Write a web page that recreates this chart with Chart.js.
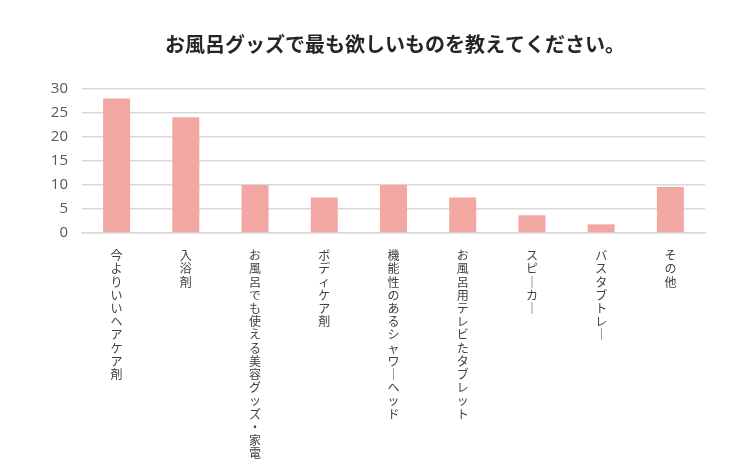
<!DOCTYPE html>
<html>
<head>
<meta charset="utf-8">
<script src="https://cdn.jsdelivr.net/npm/chart.js@4.4.0/dist/chart.umd.min.js"></script>
<style>
  html, body { margin: 0; padding: 0; background: #fff; }
  #wrap { width: 750px; height: 460px; }
</style>
</head>
<body>
<div id="wrap"><canvas id="chart" width="750" height="460"></canvas></div>
<script>
const chartTitle = "お風呂グッズで最も欲しいものを教えてください。";
const categories = [
  "今よりいいヘアケア剤",
  "入浴剤",
  "お風呂でも使える美容グッズ・家電",
  "ボディケア剤",
  "機能性のあるシャワーヘッド",
  "お風呂用テレビたタブレット",
  "スピーカー",
  "バスタブトレー",
  "その他",
];
const values = [28, 24.1, 10, 7.4, 10, 7.4, 3.7, 1.8, 9.6];
const yMax = 30;
const yStep = 5;

// vertical writing: one char per line, long vowel mark turned upright
const verticalLabels = categories.map((s) =>
  Array.from(s).map((c) => (c === "ー" ? "｜" : c))
);

const titlePlugin = {
  id: "titleText",
  afterDraw(chart) {
    const ctx = chart.ctx;
    ctx.save();
    ctx.font = "bold 20px 'Noto Sans CJK JP'";
    ctx.fillStyle = "#262626";
    ctx.textAlign = "center";
    ctx.textBaseline = "middle";
    ctx.fillText(chartTitle, 395, 44);
    ctx.restore();
  },
};

new Chart(document.getElementById("chart"), {
  type: "bar",
  data: {
    labels: verticalLabels,
    datasets: [
      {
        data: values,
        backgroundColor: "#F3A7A3",
        borderWidth: 0,
        categoryPercentage: 1,
        barPercentage: 0.39,
      },
    ],
  },
  options: {
    responsive: false,
    animation: false,
    layout: { padding: { top: 89, left: 0, right: 45, bottom: 0 } },
    plugins: {
      legend: { display: false },
      title: { display: false },
      tooltip: { enabled: false },
    },
    scales: {
      x: {
        afterFit: (s) => { s.height = 227; },
        grid: { display: false },
        border: { display: true, color: "#d9d9d9", width: 1.5 },
        ticks: {
          maxRotation: 0,
          minRotation: 0,
          autoSkip: false,
          padding: 8,
          color: "#404040",
          font: { family: "'Noto Sans CJK JP'", size: 12, lineHeight: 1.1 },
        },
      },
      y: {
        min: 0,
        max: yMax,
        afterFit: (s) => { s.width = 82; },
        ticks: {
          stepSize: yStep,
          padding: 14,
          color: "#595959",
          font: { family: "'Open Sans'", size: 15 },
        },
        grid: { color: "#d9d9d9", lineWidth: 1.5, drawTicks: false },
        border: { display: false },
      },
    },
  },
  plugins: [titlePlugin],
});
</script>
</body>
</html>
